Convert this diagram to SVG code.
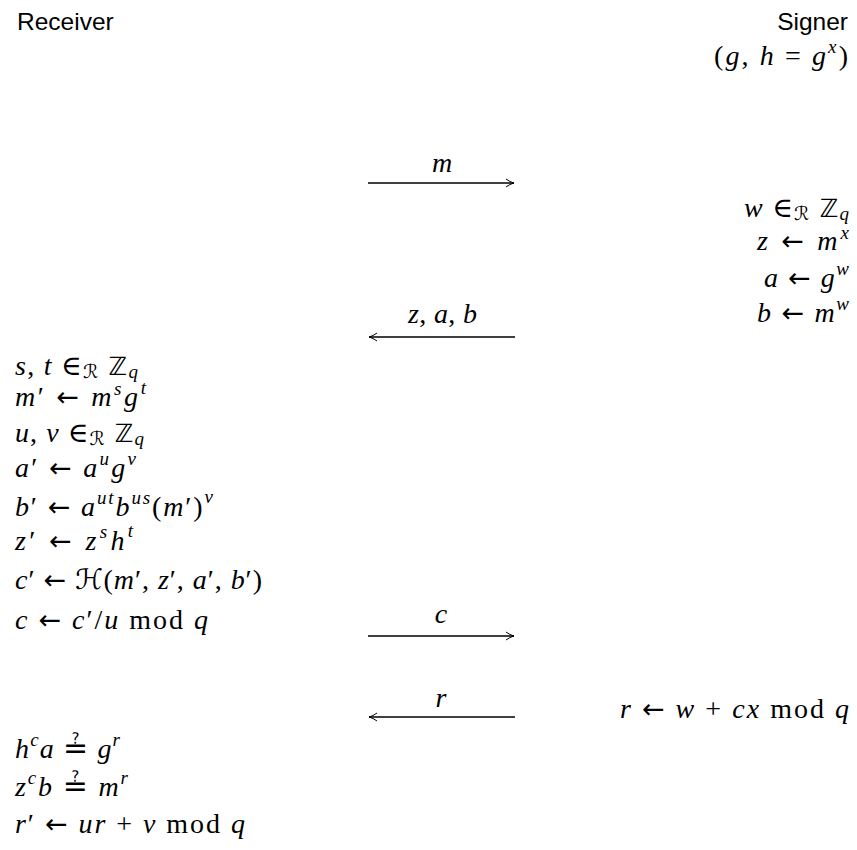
<svg xmlns="http://www.w3.org/2000/svg" width="857" height="850" viewBox="0 0 857 850">
<style>
.sf{font-family:"Liberation Sans","DejaVu Sans",sans-serif;font-size:24.5px;fill:#000}
.m{font-family:"Liberation Serif","DejaVu Serif",serif;font-style:italic;font-size:28px;fill:#000}
.r{font-style:normal}
.s{font-size:19px}
.bb{font-family:"DejaVu Sans",sans-serif;font-style:normal;font-size:25px}
.cal{font-family:"DejaVu Sans",sans-serif;font-style:italic}
.la{font-family:"DejaVu Sans",sans-serif;font-style:normal;font-size:27px}
.eq{font-family:"DejaVu Sans",sans-serif;font-style:normal;font-size:30px}
.ar{stroke:#000;stroke-width:1.6;fill:none}
</style>
<defs>
<marker id="ah" viewBox="0 0 10 10" refX="9" refY="5" markerWidth="10" markerHeight="10" markerUnits="userSpaceOnUse" orient="auto">
<path d="M1,1 Q5,4 9,5 Q5,6 1,9" fill="none" stroke="#000" stroke-width="1"/>
</marker>
</defs>
<rect width="857" height="850" fill="#fff"/>
<g id="receiver">
<text class="sf" x="17" y="30">Receiver</text>
</g>
<g id="signer">
<text class="sf" x="848" y="30" text-anchor="end">Signer</text>
<text class="m" x="714" y="65" textLength="134" lengthAdjust="spacing"><tspan class="r">(</tspan>g<tspan class="r">, </tspan>h <tspan class="r">= </tspan>g<tspan class="s" dy="-12">x</tspan><tspan class="r" dy="12">)</tspan></text>
</g>
<g id="connectors">
<line class="ar" x1="368" y1="183" x2="514" y2="183" marker-end="url(#ah)"/>
<text class="m" x="442" y="172" text-anchor="middle">m</text>
<line class="ar" x1="515" y1="337" x2="369" y2="337" marker-end="url(#ah)"/>
<text class="m" x="408" y="323" textLength="69" lengthAdjust="spacing">z<tspan class="r">, </tspan>a<tspan class="r">, </tspan>b</text>
<line class="ar" x1="368" y1="636" x2="514" y2="636" marker-end="url(#ah)"/>
<text class="m" x="441" y="623" text-anchor="middle">c</text>
<line class="ar" x1="515" y1="717" x2="369" y2="717" marker-end="url(#ah)"/>
<text class="m" x="441" y="707" text-anchor="middle">r</text>
</g>
<g id="signer-steps">
<text class="m" x="744" y="217" textLength="105" lengthAdjust="spacing">w <tspan class="r">∈</tspan><tspan class="s cal" dy="3">ℛ</tspan><tspan class="bb" dy="-3"> ℤ</tspan><tspan class="s" dy="3">q</tspan></text>
<text class="m" x="757" y="250" textLength="92" lengthAdjust="spacing">z <tspan class="la">←</tspan> m<tspan class="s" dy="-11">x</tspan></text>
<text class="m" x="764" y="287" textLength="85" lengthAdjust="spacing">a <tspan class="la">←</tspan> g<tspan class="s" dy="-12">w</tspan></text>
<text class="m" x="757" y="322" textLength="92" lengthAdjust="spacing">b <tspan class="la">←</tspan> m<tspan class="s" dy="-12">w</tspan></text>
<text class="m" x="620" y="718" textLength="229" lengthAdjust="spacing">r <tspan class="la">←</tspan> w <tspan class="r">+</tspan> cx <tspan class="r">mod</tspan> q</text>
</g>
<g id="receiver-steps">
<text class="m" x="15" y="375" textLength="123" lengthAdjust="spacing">s<tspan class="r">, </tspan>t <tspan class="r">∈</tspan><tspan class="s cal" dy="3">ℛ</tspan><tspan class="bb" dy="-3"> ℤ</tspan><tspan class="s" dy="3">q</tspan></text>
<text class="m" x="15" y="406" textLength="131" lengthAdjust="spacing">m<tspan class="r">′</tspan> <tspan class="la">←</tspan> m<tspan class="s" dy="-11">s</tspan><tspan dy="11">g</tspan><tspan class="s" dy="-12">t</tspan></text>
<text class="m" x="15" y="442" textLength="129" lengthAdjust="spacing">u<tspan class="r">, </tspan>v <tspan class="r">∈</tspan><tspan class="s cal" dy="3">ℛ</tspan><tspan class="bb" dy="-3"> ℤ</tspan><tspan class="s" dy="3">q</tspan></text>
<text class="m" x="15" y="477" textLength="121" lengthAdjust="spacing">a<tspan class="r">′</tspan> <tspan class="la">←</tspan> a<tspan class="s" dy="-12">u</tspan><tspan dy="12">g</tspan><tspan class="s" dy="-12">v</tspan></text>
<text class="m" x="15" y="516" textLength="198" lengthAdjust="spacing">b<tspan class="r">′</tspan> <tspan class="la">←</tspan> a<tspan class="s" dy="-12">ut</tspan><tspan dy="12">b</tspan><tspan class="s" dy="-12">us</tspan><tspan class="r" dy="12">(</tspan>m<tspan class="r">′)</tspan><tspan class="s" dy="-13">v</tspan></text>
<text class="m" x="15" y="550" textLength="118" lengthAdjust="spacing">z<tspan class="r">′</tspan> <tspan class="la">←</tspan> z<tspan class="s" dy="-12">s</tspan><tspan dy="12">h</tspan><tspan class="s" dy="-13">t</tspan></text>
<text class="m" x="15" y="589" textLength="247" lengthAdjust="spacing">c<tspan class="r">′</tspan> <tspan class="la">←</tspan> <tspan class="cal">ℋ</tspan><tspan class="r">(</tspan>m<tspan class="r">′, </tspan>z<tspan class="r">′, </tspan>a<tspan class="r">′, </tspan>b<tspan class="r">′)</tspan></text>
<text class="m" x="15" y="629" textLength="193" lengthAdjust="spacing">c <tspan class="la">←</tspan> c<tspan class="r">′/</tspan>u <tspan class="r">mod</tspan> q</text>
<text class="m" x="15" y="758" textLength="105" lengthAdjust="spacing">h<tspan class="s" dy="-12">c</tspan><tspan dy="12">a </tspan><tspan class="eq">≟</tspan> g<tspan class="s" dy="-12">r</tspan></text>
<text class="m" x="15" y="796" textLength="113" lengthAdjust="spacing">z<tspan class="s" dy="-12">c</tspan><tspan dy="12">b </tspan><tspan class="eq">≟</tspan> m<tspan class="s" dy="-12">r</tspan></text>
<text class="m" x="15" y="833" textLength="230" lengthAdjust="spacing">r<tspan class="r">′</tspan> <tspan class="la">←</tspan> ur <tspan class="r">+</tspan> v <tspan class="r">mod</tspan> q</text>
</g>
</svg>
